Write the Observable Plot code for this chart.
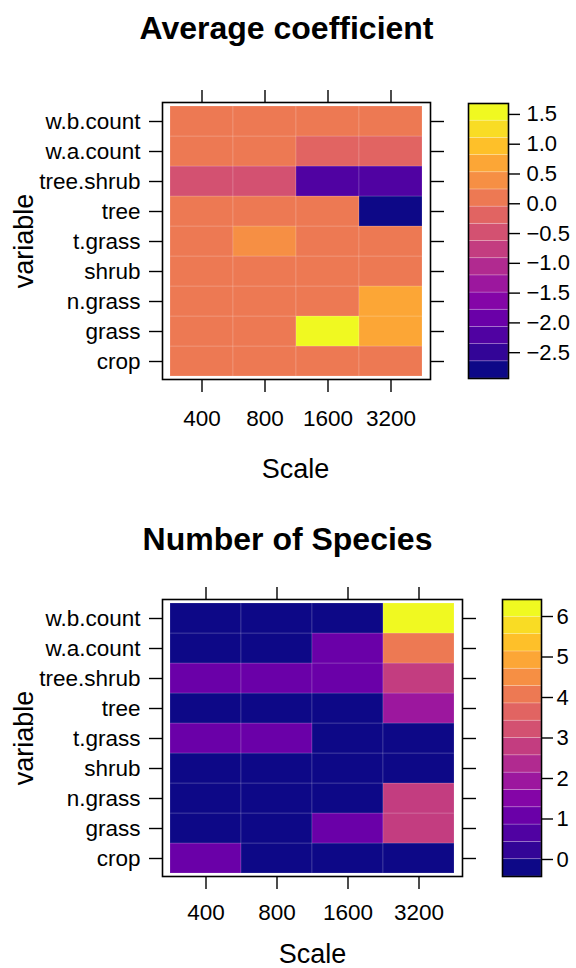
<!DOCTYPE html>
<html>
<head>
<meta charset="utf-8">
<script src="https://cdn.jsdelivr.net/npm/d3@7"></script>
<script src="https://cdn.jsdelivr.net/npm/@observablehq/plot@0.6"></script>
<style>
html, body { margin: 0; padding: 0; background: #fff; }
#fig { position: relative; width: 576px; height: 968px; font-family: "Liberation Sans", Arial, Helvetica, sans-serif; }
#fig > div { position: absolute; }
</style>
</head>
<body>
<div id="fig"></div>
<script>
// ---- data ----
const scales = ["400", "800", "1600", "3200"];
// order: bottom to top of the y axis
const variables = ["crop", "grass", "n.grass", "shrub", "t.grass", "tree", "tree.shrub", "w.a.count", "w.b.count"];

// Average coefficient, one array per Scale (values in `variables` order)
const coef400  = [0, 0,    0,    0, 0,    0,     -0.48, 0,     0];
const coef800  = [0, 0,    0,    0, 0.38, 0,     -0.45, 0,     0];
const coef1600 = [0, 1.40, 0,    0, 0,    0,     -2.20, -0.20, 0];
const coef3200 = [0, 0.66, 0.65, 0, 0,    -2.65, -2.15, -0.18, 0];

// Number of species, one array per Scale
const species400  = [1, 0, 0, 0, 1, 0, 1, 0, 0];
const species800  = [0, 0, 0, 0, 1, 0, 1, 0, 0];
const species1600 = [0, 1, 0, 0, 0, 0, 1, 1, 0];
const species3200 = [0, 3, 3, 0, 0, 2, 3, 4, 6];

const coefTicks = [-2.5, -2.0, -1.5, -1.0, -0.5, 0.0, 0.5, 1.0, 1.5];
const speciesTicks = [0, 1, 2, 3, 4, 5, 6];

const fontFamily = "Liberation Sans, Arial, Helvetica, sans-serif";

function buildTable(columns) {
  return scales.flatMap((s, j) => variables.map((v, i) => ({scale: s, variable: v, value: columns[j][i]})));
}

// lattice-like colour key: 16 equal intervals over the padded range
function colorSpec(values) {
  const [mn, mx] = d3.extent(values);
  const pad = 0.07 * (mx - mn);
  const lo = mn - pad, hi = mx + pad, n = 16;
  const w = (hi - lo) / n;
  const breaks = d3.range(n + 1).map(k => lo + k * w);
  const thresholds = breaks.slice(1, -1).map(b => b + 1e-9);
  const colors = d3.quantize(d3.interpolatePlasma, n);
  return {lo, hi, breaks, color: {type: "threshold", domain: thresholds, range: colors}};
}

function heatmapPlot(table, spec, L) {
  return Plot.plot({
    width: 576, height: 484,
    marginTop: L.top, marginBottom: L.bottom, marginLeft: 162, marginRight: L.right,
    style: {fontFamily, fontSize: "22.5px", color: "#000", background: "transparent", overflow: "visible"},
    x: {type: "band", domain: scales, padding: 0, inset: L.insetX, label: null},
    y: {type: "band", domain: variables.slice().reverse(), padding: 0, inset: L.insetY, label: null},
    color: spec.color,
    marks: [
      Plot.cell(table, {x: "scale", y: "variable", fill: "value", inset: 0, stroke: "white", strokeOpacity: 0.2, strokeWidth: 0.8}),
      Plot.frame({stroke: "#000", strokeWidth: 1.6}),
      Plot.axisX({anchor: "bottom", tickSize: 13, tickPadding: L.tickPadX, strokeWidth: 1.4, label: null, fontSize: 22.5}),
      Plot.axisX({anchor: "top", tickSize: 13, strokeWidth: 1.4, tickFormat: () => "", label: null}),
      Plot.axisY({anchor: "left", tickSize: 13, tickPadding: 9, strokeWidth: 1.4, label: null, fontSize: 22.5}),
      Plot.axisY({anchor: "right", tickSize: 13, strokeWidth: 1.4, tickFormat: () => "", label: null}),
      Plot.text([L.title], {text: d => d, frameAnchor: "top", textAnchor: "middle", dx: L.titleDx, dy: L.titleDy, lineAnchor: "bottom", fontSize: 32, fontWeight: "bold", fill: "#000"}),
      Plot.text(["Scale"], {text: d => d, frameAnchor: "bottom", textAnchor: "middle", dx: L.xLabelDx, dy: L.xLabelDy, lineAnchor: "bottom", fontSize: 27, fill: "#000"}),
      Plot.text(["variable"], {text: d => d, frameAnchor: "left", textAnchor: "middle", lineAnchor: "middle", dx: -138, rotate: -90, fontSize: 27, fill: "#000"})
    ]
  });
}

function colorbarPlot(spec, ticks, fmt, L) {
  const bins = d3.range(16).map(k => ({y1: spec.breaks[k], y2: spec.breaks[k + 1], mid: (spec.breaks[k] + spec.breaks[k + 1]) / 2}));
  return Plot.plot({
    width: L.width, height: 300,
    marginLeft: 0, marginRight: L.right, marginTop: L.top, marginBottom: L.bottom,
    style: {fontFamily, fontSize: "22px", color: "#000", background: "transparent", overflow: "visible"},
    y: {domain: [spec.lo, spec.hi], label: null},
    color: spec.color,
    marks: [
      Plot.rect(bins, {y1: "y1", y2: "y2", fill: "mid", stroke: "white", strokeOpacity: 0.25, strokeWidth: 0.8}),
      Plot.frame({stroke: "#000", strokeWidth: 1.6}),
      Plot.axisY({anchor: "right", ticks, tickFormat: fmt, tickSize: 11, tickPadding: L.pad, strokeWidth: 1.4, label: null, fontSize: 22})
    ]
  });
}

function place(node, left, top) {
  const d = document.createElement("div");
  d.style.left = left + "px";
  d.style.top = top + "px";
  d.appendChild(node);
  document.getElementById("fig").appendChild(d);
}

const coefTable = buildTable([coef400, coef800, coef1600, coef3200]);
const speciesTable = buildTable([species400, species800, species1600, species3200]);
const coefSpec = colorSpec(coefTable.map(d => d.value));
const speciesSpec = colorSpec(speciesTable.map(d => d.value));

place(heatmapPlot(coefTable, coefSpec, {
  title: "Average coefficient", top: 102, bottom: 105, right: 146, insetX: 7, insetY: 3,
  tickPadX: 18, titleDx: -10, titleDy: -63.5, xLabelDx: -1, xLabelDy: 98
}), 0, 0);

place(colorbarPlot(coefSpec, coefTicks, d3.format(".1f"), {width: 108, right: 68, top: 13, bottom: 12, pad: 7}), 468, 90);

place(heatmapPlot(speciesTable, speciesSpec, {
  title: "Number of Species", top: 115, bottom: 92, right: 114, insetX: 7, insetY: 3,
  tickPadX: 15, titleDx: -25, titleDy: -50, xLabelDx: 0, xLabelDy: 86
}), 0, 484);

place(colorbarPlot(speciesSpec, speciesTicks, d3.format("d"), {width: 74, right: 35, top: 9, bottom: 14, pad: 4}), 502, 590);
</script>
</body>
</html>
